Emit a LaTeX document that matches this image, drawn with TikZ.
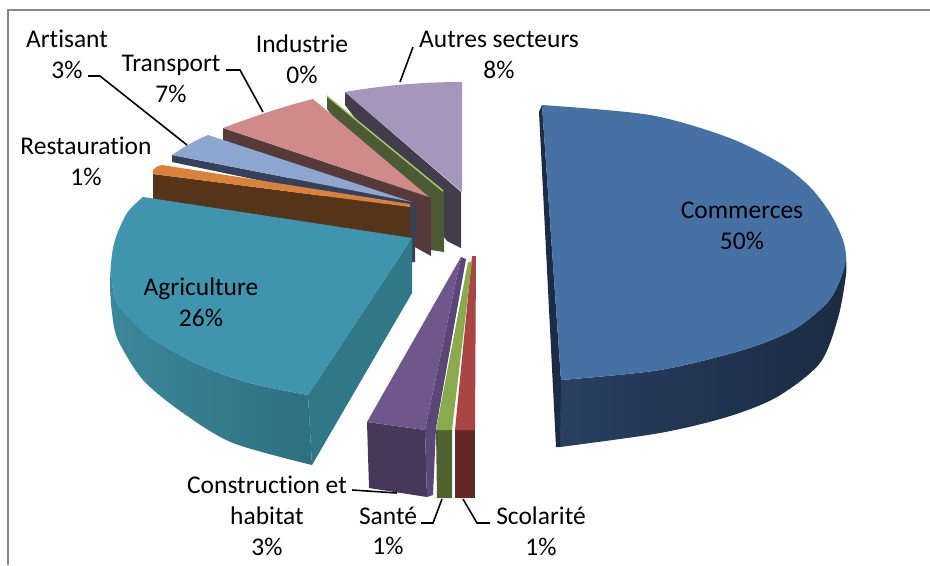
\documentclass[tikz,border=0pt]{standalone}
\usepackage{fontspec}
\setmainfont{Carlito}[Ligatures=NoCommon]
\definecolor{frameGray}{HTML}{888888}
\definecolor{comTop}{HTML}{4571A5}
\definecolor{comSideL}{HTML}{283F60}
\definecolor{comSideR}{HTML}{1B2B42}
\definecolor{comCut}{HTML}{1C2C44}
\definecolor{agrTop}{HTML}{3F95AD}
\definecolor{agrSideL}{HTML}{3B889A}
\definecolor{agrSideR}{HTML}{2E7080}
\definecolor{agrCut}{HTML}{307787}
\definecolor{resTop}{HTML}{DB8139}
\definecolor{resCut}{HTML}{553419}
\definecolor{artTop}{HTML}{8EA7D0}
\definecolor{artCut}{HTML}{33425A}
\definecolor{traTop}{HTML}{CF8A89}
\definecolor{traCut}{HTML}{563939}
\definecolor{indTop}{HTML}{A9C870}
\definecolor{indCut}{HTML}{4C5A36}
\definecolor{autTop}{HTML}{A597BB}
\definecolor{autCut}{HTML}{423D4C}
\definecolor{conTop}{HTML}{6F578B}
\definecolor{conSide}{HTML}{5A4677}
\definecolor{conFront}{HTML}{47385A}
\definecolor{sanTop}{HTML}{89AB4E}
\definecolor{sanFront}{HTML}{4F6230}
\definecolor{scoTop}{HTML}{A94543}
\definecolor{scoFront}{HTML}{632726}

\begin{document}
\begin{tikzpicture}[x=0.02cm, y=-0.02cm,
    lbl/.style = {align=center, inner sep=0pt, font=\fontsize{14.5}{17.5}\selectfont},
    leader/.style = {draw=black, line width=0.9pt}]
	\useasboundingbox (0,0) rectangle (930,565);
	\draw[frameGray, line width=1.2pt] (930,10) -- (8,10) -- (8,565);
	% autres secteurs
	\fill[autCut] (345,92) -- (461,192) -- (461,248) -- (447,241) -- (345,105) -- cycle;
	\fill[autTop] (345,92) .. controls (385,85) and (425,82) .. (462,82) -- (462,192) -- cycle;
	% industrie
	\fill[indCut] (327,96) -- (444,190) -- (444,252) -- (431,250) -- (327,109) -- cycle;
	\draw[indTop, line width=0.8pt] (327,96) -- (443,191);
	% transport
	\fill[traCut] (223,128) -- (429,197) -- (431,199) -- (431,256) -- (223,141) -- cycle;
	\fill[traTop] (223,128) .. controls (255,116) and (285,106) .. (313,99) -- (429,197) -- cycle;
	% artisant
	\fill[artCut] (172,155) -- (412,202) -- (415,205) -- (415,262) -- (410,262) -- (410,212) -- (172,162) -- cycle;
	\fill[artTop] (172,155) .. controls (185,146) and (196,140) .. (208,135) -- (412,202) -- cycle;
	% restauration
	\fill[resCut] (153,174) -- (410,207) -- (410,240) -- (153,199) -- cycle;
	\fill[resTop] (153,174) -- (153,170) .. controls (155,167) and (158,166) .. (162,165) -- (410,204) -- (410,207) -- cycle;
	% agriculture
	\shade[left color=agrSideL, right color=agrSideR] (111,265) -- plot[smooth] coordinates {(111,265) (113,290) (120,307) (150,337) (200,365) (250,383) (308,395)} -- (312,465) -- plot[smooth] coordinates {(312,465) (233,443) (183,413) (143,380) (118,340) (112,313) (110,285) (111,265)} -- cycle;
	\fill[agrCut] (412,238) -- (412,293) -- (312,465) -- (308,395) -- cycle;
	\fill[agrTop] (143,197) -- (412,238) -- (308,395) -- plot[smooth] coordinates {(308,395) (250,383) (200,365) (150,337) (120,307) (113,290) (111,265) (115,240) (127,213) (143,197)} -- cycle;
	% commerces
	\shade[left color=comSideL, right color=comSideR] (846,258) -- plot[smooth] coordinates {(846,258) (840,280) (827,303) (793,330) (743,350) (660,370) (561,380)} -- (560,447) -- plot[smooth] coordinates {(560,447) (660,433) (727,417) (777,397) (820,363) (838,318) (846,275) (846,258)} -- cycle;
	\fill[comCut] (539,112) -- (542,105) -- (561,380) -- (560,447) -- (556,447) -- cycle;
	\fill[comTop] (542,105) -- plot[smooth] coordinates {(542,105) (650,115) (727,137) (780,163) (810,187) (830,213) (843,240) (846,260) (840,280) (827,303) (793,330) (743,350) (660,370) (561,380)} -- cycle;
	% scolarite
	\fill[scoFront] (455,430) -- (475,430) -- (475,498) -- (455,498) -- cycle;
	\fill[scoTop] (472,256) -- (476,256) -- (475,430) -- (455,430) -- cycle;
	% sante
	\fill[sanFront] (436,430) -- (452,430) -- (452,498) -- (437,498) -- cycle;
	\fill[sanTop] (468,262) -- (472,262) -- (452,430) -- (436,430) -- cycle;
	% construction et habitat
	\fill[conFront] (367,422) -- (425,430) -- (427,497) -- (369,488) -- cycle;
	\fill[conSide] (461,257) -- (466,259) -- (436,428) -- (433,495) -- (427,497) -- (425,430) -- cycle;
	\fill[conTop] (461,257) -- (367,422) -- (425,430) -- cycle;
	% labels
	\node[lbl] (commerces) at (742,226) {Commerces\\50\%};
	\node[lbl] (agriculture) at (201,302) {Agriculture\\26\%};
	\node[lbl] (autres) at (499,55) {Autres secteurs\\8\%};
	\node[lbl] (industrie) at (302,59) {Industrie\\0\%};
	\node[lbl] (transport) at (171,79) {Transport\\7\%};
	\node[lbl] (artisant) at (67,54) {Artisant\\3\%};
	\node[lbl] (restauration) at (86,161) {Restauration\\1\%};
	\node[lbl] (construction) at (267,516) {Construction et\\habitat\\3\%};
	\node[lbl] (sante) at (388,531) {Santé\\1\%};
	\node[lbl] (scolarite) at (541,531) {Scolarité\\1\%};
	% leader lines
	\coordinate (autresTip) at (400,82);
	\coordinate (autresEnd) at (413,47);
	\coordinate (transTip) at (263,112);
	\coordinate (transBend) at (240,70);
	\coordinate (transEnd) at (226,70);
	\coordinate (artTip) at (187,145);
	\coordinate (artBend) at (100,76);
	\coordinate (artEnd) at (88,76);
	\coordinate (conTip) at (397,493);
	\coordinate (conEnd) at (352,490);
	\coordinate (sanTip) at (442,499);
	\coordinate (sanBend) at (433,523);
	\coordinate (sanEnd) at (421,523);
	\coordinate (scoTip) at (463,499);
	\coordinate (scoBend) at (477,523);
	\coordinate (scoEnd) at (490,523);
	\draw[leader] (autresTip) -- (autresEnd);
	\draw[leader] (transTip) -- (transBend) -- (transEnd);
	\draw[leader] (artTip) -- (artBend) -- (artEnd);
	\draw[leader] (conTip) -- (conEnd);
	\draw[leader] (sanTip) -- (sanBend) -- (sanEnd);
	\draw[leader] (scoTip) -- (scoBend) -- (scoEnd);
\end{tikzpicture}
\end{document}
